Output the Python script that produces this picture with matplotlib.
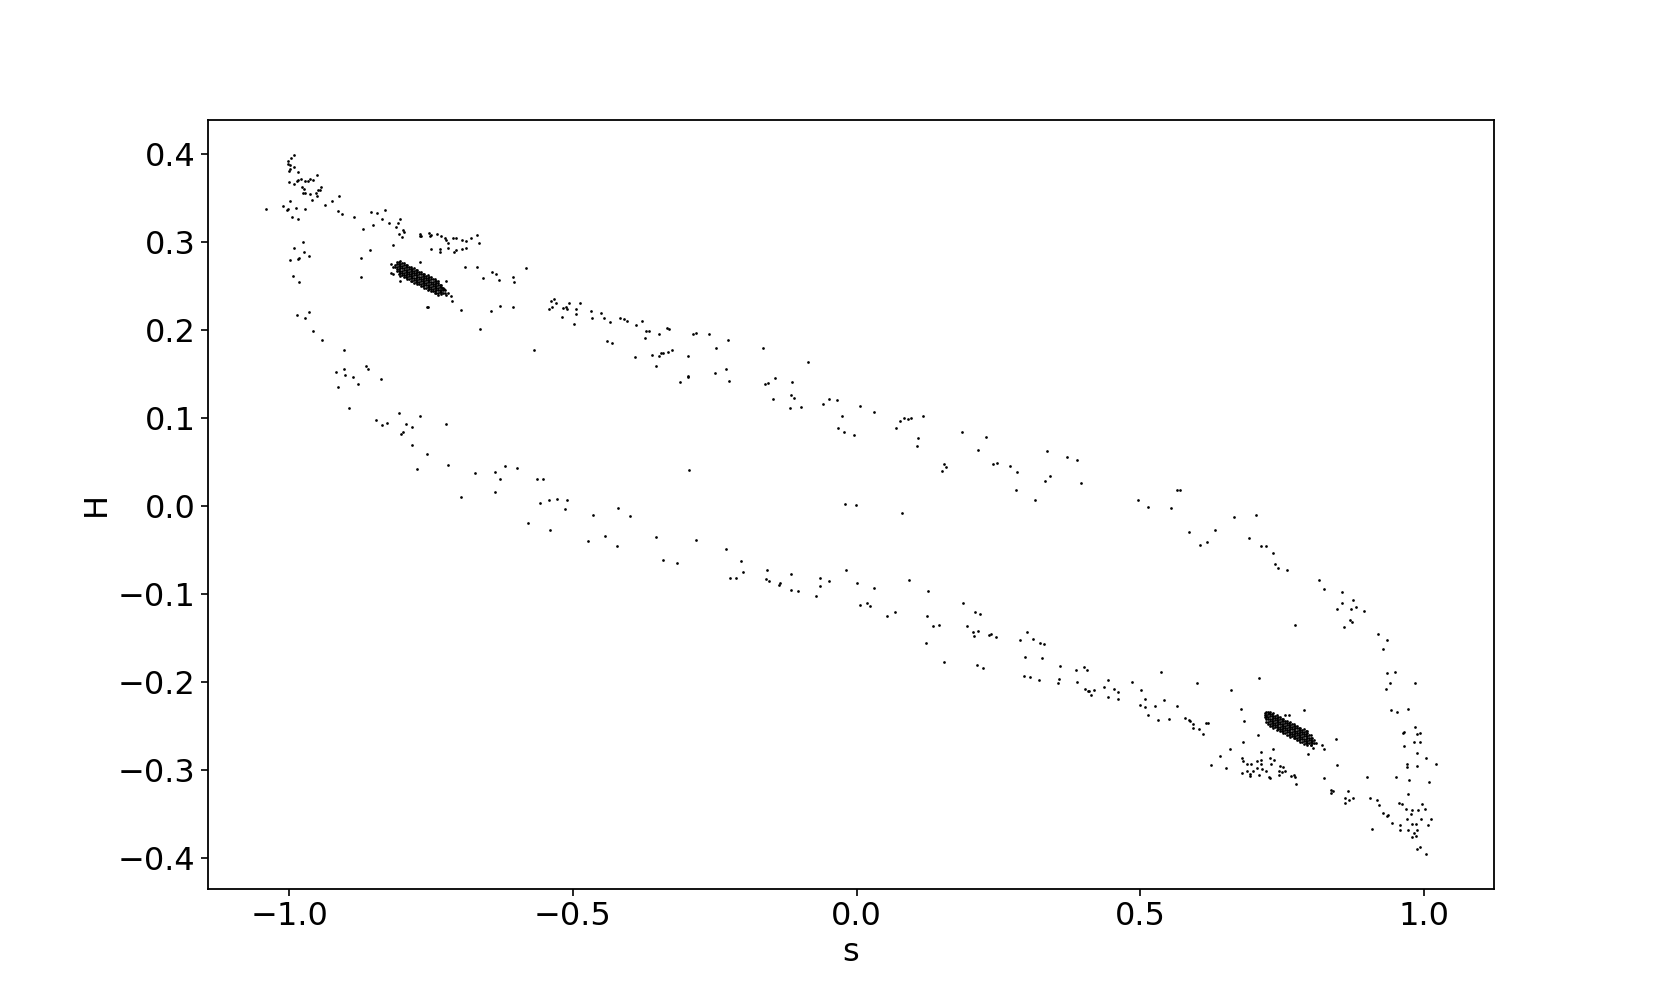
import numpy as np
import matplotlib
matplotlib.use("Agg")
import matplotlib.pyplot as plt

# ---- scattered trajectory points (s, H) ----
pts_upper_left = [
    (-0.992, 0.399), (-0.997, 0.395), (-1.003, 0.392), (-1.002, 0.389), (-0.999, 0.387),
    (-0.992, 0.385), (-1.001, 0.381), (-0.999, 0.383), (-0.984, 0.379), (-1.001, 0.368),
    (-0.991, 0.366), (-0.987, 0.369), (-0.985, 0.370), (-0.980, 0.371), (-0.973, 0.369),
    (-0.967, 0.369), (-0.964, 0.371), (-0.958, 0.370), (-0.951, 0.376), (-0.978, 0.362),
    (-0.974, 0.360), (-0.976, 0.356), (-0.973, 0.356), (-0.964, 0.355), (-0.952, 0.356),
    (-0.950, 0.359), (-0.945, 0.359), (-0.944, 0.363), (-0.951, 0.352), (-0.960, 0.348),
    (-0.937, 0.342), (-0.925, 0.347), (-0.912, 0.352), (-0.999, 0.346), (-1.011, 0.341),
    (-1.002, 0.338), (-1.004, 0.336), (-0.988, 0.339), (-0.973, 0.338), (-0.995, 0.328),
    (-0.984, 0.326), (-1.041, 0.337), (-0.914, 0.335), (-0.907, 0.332), (-0.886, 0.328),
    (-0.856, 0.334), (-0.846, 0.333), (-0.831, 0.336), (-0.836, 0.326), (-0.824, 0.322),
    (-0.852, 0.319), (-0.870, 0.315), (-0.804, 0.326), (-0.809, 0.322), (-0.811, 0.317),
    (-0.799, 0.313), (-0.798, 0.311), (-0.807, 0.309), (-0.801, 0.306), (-0.817, 0.296),
    (-0.857, 0.291), (-0.873, 0.282), (-0.873, 0.260),
    (-0.975, 0.300), (-0.991, 0.293), (-0.974, 0.288), (-0.965, 0.284), (-0.982, 0.282),
    (-0.985, 0.281), (-0.999, 0.280), (-0.993, 0.261), (-0.982, 0.254), (-0.987, 0.217),
    (-0.966, 0.220), (-0.972, 0.213), (-0.958, 0.199), (-0.942, 0.189), (-0.904, 0.177),
    (-0.918, 0.152), (-0.903, 0.156), (-0.901, 0.149), (-0.865, 0.159), (-0.861, 0.156),
]

pts_upper_mid = [
    (-0.769, 0.309), (-0.767, 0.307), (-0.770, 0.307), (-0.753, 0.310), (-0.751, 0.308),
    (-0.752, 0.307), (-0.739, 0.309), (-0.732, 0.307), (-0.726, 0.304), (-0.723, 0.302),
    (-0.720, 0.299), (-0.711, 0.304), (-0.706, 0.305), (-0.696, 0.302), (-0.689, 0.301),
    (-0.679, 0.305), (-0.670, 0.308), (-0.665, 0.299), (-0.751, 0.292), (-0.735, 0.292),
    (-0.735, 0.288), (-0.720, 0.293), (-0.709, 0.289), (-0.707, 0.291), (-0.696, 0.292),
    (-0.689, 0.293), (-0.769, 0.277), (-0.690, 0.272), (-0.670, 0.271), (-0.659, 0.259),
    (-0.643, 0.266), (-0.635, 0.264), (-0.630, 0.257), (-0.606, 0.260), (-0.604, 0.255),
    (-0.582, 0.270), (-0.723, 0.256), (-0.715, 0.238), (-0.714, 0.233), (-0.757, 0.226),
    (-0.697, 0.223), (-0.644, 0.221), (-0.629, 0.227), (-0.605, 0.226), (-0.663, 0.201),
    (-0.569, 0.177),
    (-0.542, 0.224), (-0.538, 0.233), (-0.534, 0.235), (-0.530, 0.231), (-0.537, 0.226),
    (-0.520, 0.215), (-0.518, 0.225), (-0.512, 0.226), (-0.510, 0.224), (-0.507, 0.231),
    (-0.499, 0.207), (-0.494, 0.224), (-0.494, 0.218), (-0.488, 0.231), (-0.469, 0.221),
    (-0.467, 0.213), (-0.451, 0.219), (-0.446, 0.214), (-0.434, 0.209), (-0.417, 0.213),
    (-0.410, 0.212), (-0.404, 0.210), (-0.389, 0.205), (-0.440, 0.187), (-0.431, 0.185),
    (-0.390, 0.169),
    (-0.378, 0.210), (-0.371, 0.199), (-0.366, 0.199), (-0.349, 0.195), (-0.335, 0.202),
    (-0.330, 0.201), (-0.373, 0.191), (-0.289, 0.195), (-0.283, 0.197), (-0.260, 0.195),
    (-0.227, 0.188), (-0.248, 0.179), (-0.166, 0.179), (-0.085, 0.164), (-0.361, 0.172),
    (-0.349, 0.170), (-0.345, 0.174), (-0.342, 0.174), (-0.332, 0.175), (-0.326, 0.177),
    (-0.298, 0.170), (-0.354, 0.159), (-0.249, 0.151), (-0.230, 0.156), (-0.298, 0.148),
    (-0.820, 0.275), (-0.818, 0.271), (-0.821, 0.265), (-0.818, 0.263), (-0.805, 0.256),
    (-0.730, 0.248), (-0.727, 0.246), (-0.721, 0.242), (-0.723, 0.240), (-0.756, 0.226),
]

pts_left_lower = [
    (-0.887, 0.146), (-0.839, 0.144), (-0.914, 0.135), (-0.878, 0.138), (-0.895, 0.111),
    (-0.847, 0.097), (-0.836, 0.092), (-0.828, 0.094), (-0.807, 0.105), (-0.795, 0.093),
    (-0.783, 0.090), (-0.769, 0.102), (-0.803, 0.082), (-0.799, 0.084), (-0.784, 0.069),
    (-0.757, 0.059), (-0.775, 0.042), (-0.723, 0.093), (-0.720, 0.046), (-0.698, 0.010),
    (-0.672, 0.037), (-0.638, 0.038), (-0.628, 0.030), (-0.619, 0.045), (-0.598, 0.043),
    (-0.638, 0.016), (-0.563, 0.030), (-0.552, 0.030), (-0.579, -0.019), (-0.558, 0.003),
    (-0.543, 0.007), (-0.528, 0.008), (-0.510, 0.007), (-0.514, -0.004), (-0.540, -0.028),
    (-0.465, -0.010), (-0.473, -0.040), (-0.443, -0.034), (-0.423, -0.046), (-0.421, -0.003),
    (-0.399, -0.012),
]

pts_mid_upper = [
    (-0.312, 0.141), (-0.298, 0.146), (-0.225, 0.142), (-0.162, 0.138), (-0.156, 0.140),
    (-0.144, 0.145), (-0.114, 0.141), (-0.115, 0.126), (-0.111, 0.123), (-0.148, 0.121),
    (-0.118, 0.111), (-0.098, 0.112), (-0.059, 0.116), (-0.048, 0.121), (-0.034, 0.120),
    (0.005, 0.114), (0.030, 0.107), (-0.026, 0.102), (-0.033, 0.088), (-0.023, 0.084),
    (-0.004, 0.080), (0.070, 0.088), (0.077, 0.096), (0.084, 0.100), (0.090, 0.099),
    (0.095, 0.100), (0.116, 0.102), (0.108, 0.077), (0.107, 0.068), (0.185, 0.084),
    (0.227, 0.078), (0.214, 0.064), (0.241, 0.048), (0.248, 0.049), (0.271, 0.045),
    (0.282, 0.039), (0.280, 0.018), (0.150, 0.040), (0.153, 0.047), (0.157, 0.044),
    (0.336, 0.062), (0.370, 0.056), (0.332, 0.028), (0.341, 0.034), (0.315, 0.007),
    (-0.296, 0.041), (-0.021, 0.002), (-0.002, 0.001), (0.080, -0.008),
    (0.389, 0.052), (0.395, 0.026), (0.496, 0.007), (0.514, -0.001), (0.554, -0.002),
    (0.564, 0.018), (0.570, 0.018), (0.586, -0.030), (0.605, -0.045), (0.618, -0.041),
    (0.631, -0.027), (0.665, -0.013), (0.704, -0.011), (0.691, -0.037), (0.712, -0.046),
    (0.721, -0.046), (0.733, -0.054), (0.737, -0.066), (0.743, -0.071), (0.758, -0.073),
    (0.815, -0.084), (0.824, -0.095), (0.855, -0.098), (0.855, -0.111), (0.846, -0.117),
    (0.871, -0.117), (0.875, -0.107), (0.879, -0.115), (0.894, -0.120), (0.870, -0.130),
    (0.872, -0.132), (0.859, -0.138), (0.772, -0.135),
]

pts_mid_lower = [
    (-0.353, -0.036), (-0.341, -0.062), (-0.316, -0.065), (-0.284, -0.039), (-0.231, -0.049),
    (-0.204, -0.063), (-0.200, -0.075), (-0.223, -0.082), (-0.213, -0.082), (-0.158, -0.073),
    (-0.159, -0.083), (-0.155, -0.085), (-0.135, -0.088), (-0.137, -0.090), (-0.116, -0.077),
    (-0.115, -0.096), (-0.103, -0.097), (-0.071, -0.102), (-0.064, -0.082), (-0.065, -0.091),
    (-0.048, -0.085), (-0.018, -0.073), (0.001, -0.088), (0.031, -0.093), (0.006, -0.113),
    (0.019, -0.111), (0.023, -0.114), (0.054, -0.125), (0.068, -0.121), (0.092, -0.084),
    (0.125, -0.097), (0.123, -0.125), (0.135, -0.137), (0.145, -0.135), (0.187, -0.111),
    (0.195, -0.137), (0.209, -0.121), (0.218, -0.123), (0.205, -0.143), (0.213, -0.142),
    (0.300, -0.144),
    (0.122, -0.156), (0.154, -0.178), (0.207, -0.148), (0.233, -0.147), (0.237, -0.146),
    (0.245, -0.149), (0.212, -0.181), (0.223, -0.184), (0.288, -0.153), (0.311, -0.151),
    (0.323, -0.156), (0.330, -0.157), (0.296, -0.172), (0.326, -0.173), (0.358, -0.182),
    (0.295, -0.193), (0.305, -0.195), (0.321, -0.198), (0.357, -0.197), (0.355, -0.201),
]

pts_lower_right = [
    (0.918, -0.146), (0.934, -0.152), (0.928, -0.163), (0.935, -0.190), (0.948, -0.189),
    (0.939, -0.202), (0.932, -0.208), (0.984, -0.202), (0.942, -0.232), (0.952, -0.234),
    (0.971, -0.231), (0.962, -0.258), (0.965, -0.257), (0.983, -0.252), (0.987, -0.259),
    (0.992, -0.258), (0.965, -0.273), (0.982, -0.269), (0.993, -0.269), (0.988, -0.281),
    (1.003, -0.287), (1.020, -0.293), (0.970, -0.293), (0.969, -0.297), (0.988, -0.296),
    (0.950, -0.308), (0.973, -0.312), (1.008, -0.314), (0.971, -0.328), (0.899, -0.308),
    (0.904, -0.332), (0.916, -0.334), (0.920, -0.340), (0.927, -0.349), (0.936, -0.351),
    (0.934, -0.353), (0.944, -0.361), (0.956, -0.338), (0.961, -0.339), (0.968, -0.345),
    (0.977, -0.350), (0.979, -0.346), (0.989, -0.346), (0.996, -0.339), (1.001, -0.345),
    (0.995, -0.356), (0.970, -0.356), (0.958, -0.363), (0.958, -0.369), (0.971, -0.368),
    (0.979, -0.362), (0.985, -0.362), (0.988, -0.368), (0.982, -0.372), (0.985, -0.375),
    (0.979, -0.377), (1.006, -0.363), (1.012, -0.356), (0.987, -0.390), (0.992, -0.388),
    (1.004, -0.396), (0.908, -0.367),
    (0.387, -0.187), (0.401, -0.183), (0.405, -0.187), (0.389, -0.200), (0.403, -0.208),
    (0.407, -0.210), (0.410, -0.210), (0.413, -0.215), (0.419, -0.209), (0.435, -0.206),
    (0.442, -0.198), (0.442, -0.217), (0.453, -0.208), (0.461, -0.212), (0.461, -0.220),
    (0.485, -0.200), (0.501, -0.209), (0.500, -0.226), (0.508, -0.220), (0.508, -0.229),
    (0.514, -0.238), (0.525, -0.228), (0.531, -0.243), (0.536, -0.189), (0.541, -0.221),
    (0.550, -0.242), (0.564, -0.228), (0.578, -0.241), (0.585, -0.243), (0.587, -0.245),
    (0.593, -0.248), (0.592, -0.253), (0.603, -0.254), (0.611, -0.259), (0.615, -0.247),
    (0.619, -0.247), (0.600, -0.201), (0.660, -0.209), (0.709, -0.196), (0.624, -0.295),
    (0.650, -0.298), (0.641, -0.284), (0.657, -0.276), (0.678, -0.231), (0.683, -0.245),
    (0.680, -0.268), (0.708, -0.260), (0.713, -0.280), (0.733, -0.277), (0.789, -0.232),
    (0.844, -0.265), (0.846, -0.295), (0.823, -0.310), (0.836, -0.323), (0.839, -0.324),
    (0.836, -0.326), (0.866, -0.324), (0.860, -0.332), (0.868, -0.334), (0.874, -0.332),
    (0.861, -0.338), (0.795, -0.282), (0.804, -0.275), (0.820, -0.272), (0.823, -0.277),
    (0.679, -0.287), (0.680, -0.290), (0.688, -0.293), (0.695, -0.293), (0.705, -0.290),
    (0.713, -0.289), (0.713, -0.293), (0.729, -0.287), (0.735, -0.289), (0.687, -0.301),
    (0.698, -0.301), (0.705, -0.298), (0.714, -0.299), (0.722, -0.301), (0.730, -0.294),
    (0.679, -0.304), (0.693, -0.305), (0.693, -0.307), (0.709, -0.306), (0.726, -0.308),
    (0.728, -0.309), (0.744, -0.302), (0.746, -0.296), (0.752, -0.297), (0.750, -0.303),
    (0.754, -0.302), (0.745, -0.306), (0.766, -0.307), (0.770, -0.306), (0.773, -0.308),
    (0.774, -0.316),
    (0.719, -0.235), (0.722, -0.239), (0.727, -0.236), (0.755, -0.238), (0.762, -0.238),
    (0.800, -0.272),
]

# ---- dense clusters: columns of s with the H values seen in each ----
cluster1_rows = [
    (-0.813, [0.2715, 0.2743]),
    (-0.810, [0.2665, 0.2692, 0.2719, 0.2746, 0.2773]),
    (-0.807, [0.2641, 0.2668, 0.2695, 0.2723, 0.2750, 0.2777]),
    (-0.804, [0.2618, 0.2645, 0.2672, 0.2699, 0.2726, 0.2753, 0.2780]),
    (-0.801, [0.2621, 0.2648, 0.2675, 0.2703, 0.2730, 0.2757]),
    (-0.798, [0.2598, 0.2625, 0.2652, 0.2679, 0.2706, 0.2733, 0.2760]),
    (-0.795, [0.2601, 0.2628, 0.2655, 0.2683, 0.2710, 0.2737]),
    (-0.792, [0.2578, 0.2605, 0.2632, 0.2659, 0.2686, 0.2713, 0.2740]),
    (-0.789, [0.2581, 0.2608, 0.2635, 0.2663, 0.2690, 0.2717]),
    (-0.786, [0.2558, 0.2585, 0.2612, 0.2639, 0.2666, 0.2693, 0.2720]),
    (-0.783, [0.2561, 0.2588, 0.2615, 0.2643, 0.2670, 0.2697]),
    (-0.780, [0.2538, 0.2565, 0.2592, 0.2619, 0.2646, 0.2673, 0.2700]),
    (-0.777, [0.2541, 0.2568, 0.2595, 0.2623, 0.2650, 0.2677]),
    (-0.774, [0.2518, 0.2545, 0.2572, 0.2599, 0.2626, 0.2653, 0.2680]),
    (-0.771, [0.2521, 0.2548, 0.2575, 0.2603, 0.2630, 0.2657]),
    (-0.768, [0.2498, 0.2525, 0.2552, 0.2579, 0.2606, 0.2633, 0.2660]),
    (-0.765, [0.2501, 0.2528, 0.2555, 0.2583, 0.2610, 0.2637]),
    (-0.762, [0.2478, 0.2505, 0.2532, 0.2559, 0.2586, 0.2613, 0.2640]),
    (-0.759, [0.2481, 0.2508, 0.2535, 0.2563, 0.2590, 0.2617]),
    (-0.756, [0.2458, 0.2485, 0.2512, 0.2539, 0.2566, 0.2593, 0.2620]),
    (-0.753, [0.2461, 0.2488, 0.2515, 0.2543, 0.2570, 0.2597]),
    (-0.750, [0.2438, 0.2465, 0.2492, 0.2519, 0.2546, 0.2573, 0.2600]),
    (-0.747, [0.2441, 0.2468, 0.2495, 0.2523, 0.2550, 0.2577]),
    (-0.744, [0.2418, 0.2445, 0.2472, 0.2499, 0.2526, 0.2553, 0.2580]),
    (-0.741, [0.2421, 0.2448, 0.2475, 0.2503, 0.2530, 0.2557]),
    (-0.738, [0.2398, 0.2425, 0.2452, 0.2479, 0.2506, 0.2533, 0.2560]),
    (-0.735, [0.2428, 0.2455, 0.2483, 0.2510]),
    (-0.732, [0.2405, 0.2432, 0.2459, 0.2486, 0.2513]),
    (-0.729, [0.2422, 0.2449, 0.2476]),
    (-0.726, [0.2425, 0.2453]),
]

cluster2_rows = [
    (0.719, [-0.2378, -0.2406]),
    (0.722, [-0.2348, -0.2375, -0.2402, -0.2429, -0.2456]),
    (0.725, [-0.2344, -0.2371, -0.2398, -0.2426, -0.2453, -0.2480]),
    (0.728, [-0.2341, -0.2368, -0.2395, -0.2422, -0.2449, -0.2476, -0.2503]),
    (0.731, [-0.2364, -0.2391, -0.2418, -0.2446, -0.2473, -0.2500]),
    (0.734, [-0.2361, -0.2388, -0.2415, -0.2442, -0.2469, -0.2496, -0.2523]),
    (0.737, [-0.2384, -0.2411, -0.2438, -0.2466, -0.2493, -0.2520]),
    (0.740, [-0.2381, -0.2408, -0.2435, -0.2462, -0.2489, -0.2516, -0.2543]),
    (0.743, [-0.2404, -0.2431, -0.2458, -0.2486, -0.2513, -0.2540]),
    (0.746, [-0.2401, -0.2428, -0.2455, -0.2482, -0.2509, -0.2536, -0.2563]),
    (0.749, [-0.2424, -0.2451, -0.2478, -0.2506, -0.2533, -0.2560]),
    (0.752, [-0.2421, -0.2448, -0.2475, -0.2502, -0.2529, -0.2556, -0.2583]),
    (0.755, [-0.2444, -0.2471, -0.2498, -0.2526, -0.2553, -0.2580]),
    (0.758, [-0.2441, -0.2468, -0.2495, -0.2522, -0.2549, -0.2576, -0.2603]),
    (0.761, [-0.2464, -0.2491, -0.2518, -0.2546, -0.2573, -0.2600]),
    (0.764, [-0.2461, -0.2488, -0.2515, -0.2542, -0.2569, -0.2596, -0.2623]),
    (0.767, [-0.2484, -0.2511, -0.2538, -0.2566, -0.2593, -0.2620]),
    (0.770, [-0.2481, -0.2508, -0.2535, -0.2562, -0.2589, -0.2616, -0.2643]),
    (0.773, [-0.2504, -0.2531, -0.2558, -0.2586, -0.2613, -0.2640]),
    (0.776, [-0.2501, -0.2528, -0.2555, -0.2582, -0.2609, -0.2636, -0.2663]),
    (0.779, [-0.2524, -0.2551, -0.2578, -0.2606, -0.2633, -0.2660]),
    (0.782, [-0.2521, -0.2548, -0.2575, -0.2602, -0.2629, -0.2656, -0.2683]),
    (0.785, [-0.2544, -0.2571, -0.2598, -0.2626, -0.2653, -0.2680]),
    (0.788, [-0.2541, -0.2568, -0.2595, -0.2622, -0.2649, -0.2676, -0.2703]),
    (0.791, [-0.2564, -0.2591, -0.2618, -0.2646, -0.2673, -0.2700]),
    (0.794, [-0.2561, -0.2588, -0.2615, -0.2642, -0.2669, -0.2696, -0.2723]),
    (0.797, [-0.2611, -0.2638, -0.2666, -0.2693]),
    (0.800, [-0.2608, -0.2635, -0.2662, -0.2689, -0.2716]),
    (0.803, [-0.2645, -0.2672, -0.2699]),
    (0.806, [-0.2668, -0.2696]),
    (0.809, [-0.2692]),
]


def unpack_pairs(pairs):
    arr = np.array(pairs, dtype=float)
    return arr[:, 0], arr[:, 1]


def unpack_rows(rows):
    s_vals, h_vals = [], []
    for s_val, hs in rows:
        for h in hs:
            s_vals.append(s_val)
            h_vals.append(h)
    return np.array(s_vals), np.array(h_vals)


groups = [pts_upper_left, pts_upper_mid, pts_left_lower, pts_mid_upper,
          pts_mid_lower, pts_lower_right]
s_all, H_all = [], []
for g in groups:
    a, b = unpack_pairs(g)
    s_all.append(a)
    H_all.append(b)
for rows in (cluster1_rows, cluster2_rows):
    a, b = unpack_rows(rows)
    s_all.append(a)
    H_all.append(b)
s_all = np.concatenate(s_all)
H_all = np.concatenate(H_all)

fig = plt.figure(figsize=(16.6, 9.99), dpi=100)
ax = fig.add_subplot(111)
ax.scatter(s_all, H_all, s=3.8, c='k', marker='o', linewidths=0)

ax.set_xlabel('s', fontsize=23)
ax.set_ylabel('H', fontsize=23)
ax.tick_params(axis='both', labelsize=23, length=5, width=1.2)
for sp in ax.spines.values():
    sp.set_linewidth(1.3)

fig.savefig('out.png', dpi=100)
